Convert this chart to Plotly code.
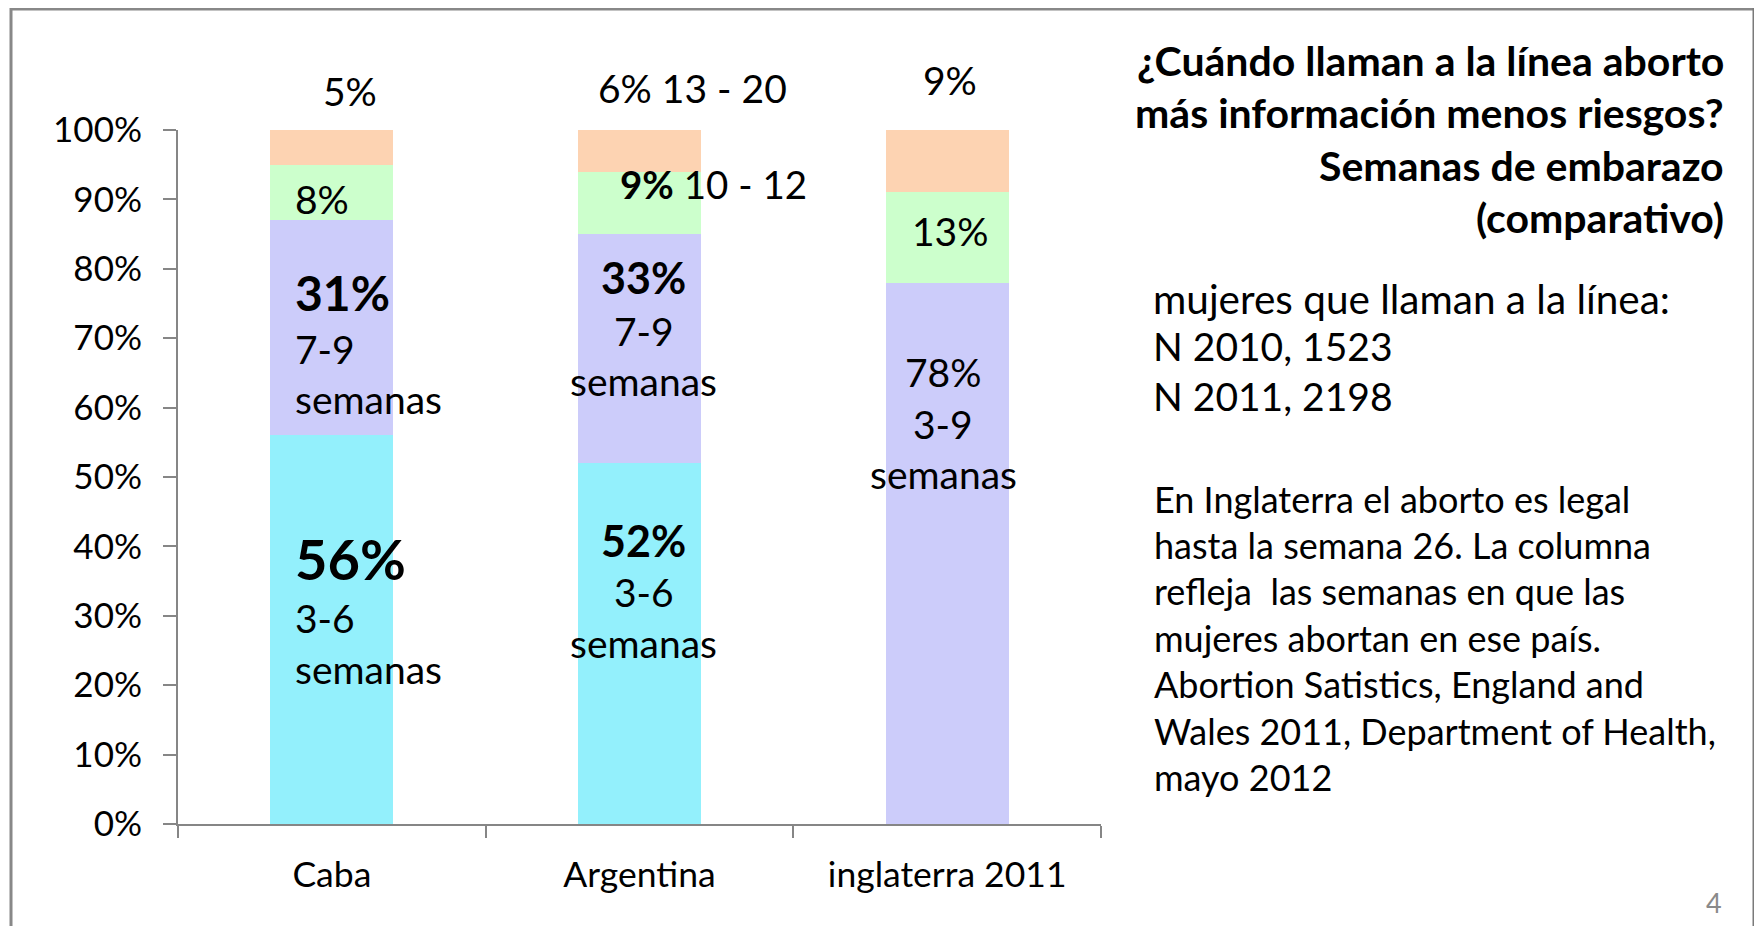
import plotly.graph_objects as go

categories = ["Caba", "Argentina", "inglaterra 2011"]
seg_names = ["3-6 semanas", "7-9 semanas", "10-12 semanas", "13-20 semanas"]
v_3_6 = [56, 52, 0]
v_7_9 = [31, 33, 78]
v_10_12 = [8, 9, 13]
v_13_20 = [5, 6, 9]
series = [v_3_6, v_7_9, v_10_12, v_13_20]
colors = ["#93F0FC", "#CCCCFA", "#CCFFCC", "#FDD3B2"]
y_ticks = [0, 10, 20, 30, 40, 50, 60, 70, 80, 90, 100]
y_ticktext = [f"{v}%" for v in y_ticks]

FONT = "Lato"
OFF = 8  # page body margin
W, H = 1762 - OFF, 926 - OFF
PL, PR, PT, PB = 178, 1101, 130, 824  # plot area in page pixels
L, T = PL - OFF, PT - OFF
R, B = W - (PR - OFF), H - (PB - OFF)

fig = go.Figure()
for name, vals, col in zip(seg_names, series, colors):
    fig.add_trace(go.Bar(x=categories, y=vals, name=name, marker_color=col,
                         marker_line_width=0, hoverinfo="x+y+name"))

# cumulative segment midpoints from data
mids = []
for ci in range(len(categories)):
    base = 0
    row = []
    for s in series:
        row.append(base + s[ci] / 2)
        base += s[ci]
    mids.append(row)

def px(v):
    return PB - (PB - PT) / 100 * v

def ys(ci, si, target):
    return px(mids[ci][si]) - target

def lab(ci, si, text, xanchor, xshift, target, size=39, bold=False):
    t = f"<b>{text}</b>" if bold else text
    fig.add_annotation(x=categories[ci], y=mids[ci][si], xref="x", yref="y", text=t,
                       showarrow=False, xanchor=xanchor, yanchor="middle",
                       xshift=xshift, yshift=ys(ci, si, target),
                       font=dict(family=FONT, size=size, color="#000000"))

# Caba (left aligned)
lab(0, 0, f"{v_3_6[0]}%", "left", -39, 558, 56, True)
lab(0, 0, "3-6", "left", -39, 618)
lab(0, 0, "semanas", "left", -39, 669)
lab(0, 1, f"{v_7_9[0]}%", "left", -39, 292, 48, True)
lab(0, 1, "7-9", "left", -39, 349)
lab(0, 1, "semanas", "left", -39, 399)
lab(0, 2, f"{v_10_12[0]}%", "left", -39, 199)
lab(0, 3, f"{v_13_20[0]}%", "center", 18, 91)
# Argentina (centered)
lab(1, 0, f"{v_3_6[1]}%", "center", 4, 540, 43, True)
lab(1, 0, "3-6", "center", 4, 592)
lab(1, 0, "semanas", "center", 4, 643)
lab(1, 1, f"{v_7_9[1]}%", "center", 4, 277, 43, True)
lab(1, 1, "7-9", "center", 4, 331)
lab(1, 1, "semanas", "center", 4, 381)
fig.add_annotation(x=categories[1], y=mids[1][2], xref="x", yref="y",
                   text=f"<b>{v_10_12[1]}%</b> 10 - 12", showarrow=False,
                   xanchor="left", yanchor="middle", xshift=-22, yshift=ys(1, 2, 184),
                   font=dict(family=FONT, size=38.5, color="#000000"))
lab(1, 3, f"{v_13_20[1]}% 13 - 20", "center", 53, 88)
# Inglaterra
lab(2, 1, f"{v_7_9[2]}%", "center", -4, 372)
lab(2, 1, "3-9", "center", -4, 424)
lab(2, 1, "semanas", "center", -4, 474)
lab(2, 2, f"{v_10_12[2]}%", "center", 3, 231)
lab(2, 3, f"{v_13_20[2]}%", "center", 3, 80)

# right-hand text (paper coords from page pixels)
def xp(p):
    return (p - PL) / (PR - PL)

def yp(p):
    return (PB - p) / (PB - PT)

title_lines = ["¿Cuándo llaman a la línea aborto", "más información menos riesgos?",
               "Semanas de embarazo", "(comparativo)"]
title_y = [61, 113, 165, 217]
for t, y in zip(title_lines, title_y):
    fig.add_annotation(x=xp(1726), y=yp(y), xref="paper", yref="paper", text=f"<b>{t}</b>",
                       showarrow=False, xanchor="right", yanchor="middle",
                       font=dict(family=FONT, size=41, color="#000000"))

n_lines = ["mujeres que llaman a la línea:", "N 2010, 1523", "N 2011, 2198"]
n_y = [298, 346, 396]
n_size = [40.5, 39, 39]
for t, y, s in zip(n_lines, n_y, n_size):
    fig.add_annotation(x=xp(1151), y=yp(y), xref="paper", yref="paper", text=t,
                       showarrow=False, xanchor="left", yanchor="middle",
                       font=dict(family=FONT, size=s, color="#000000"))

p_lines = ["En Inglaterra el aborto es legal", "hasta la semana 26. La columna",
           "refleja  las semanas en que las", "mujeres abortan en ese país.",
           "Abortion Satistics, England and", "Wales 2011, Department of Health,",
           "mayo 2012"]
p_y = [499, 545, 591, 638, 684, 731, 777]
for t, y in zip(p_lines, p_y):
    fig.add_annotation(x=xp(1152), y=yp(y), xref="paper", yref="paper", text=t,
                       showarrow=False, xanchor="left", yanchor="middle",
                       font=dict(family=FONT, size=36, color="#000000"))

fig.add_annotation(x=xp(1724), y=yp(903), xref="paper", yref="paper", text="4",
                   showarrow=False, xanchor="right", yanchor="middle",
                   font=dict(family=FONT, size=27, color="#8a8a8a"))

# slide frame
fig.add_shape(type="line", xref="paper", yref="paper", x0=xp(11), x1=xp(11), y0=yp(8), y1=yp(940),
              line=dict(color="#888888", width=3))
fig.add_shape(type="line", xref="paper", yref="paper", x0=xp(10), x1=xp(1755), y0=yp(9), y1=yp(9),
              line=dict(color="#888888", width=3))
fig.add_shape(type="line", xref="paper", yref="paper", x0=xp(1755), x1=xp(1755), y0=yp(8), y1=yp(940),
              line=dict(color="#7a7a7a", width=5))

fig.update_layout(
    width=W, height=H, barmode="stack", bargap=0.6, showlegend=False,
    paper_bgcolor="white", plot_bgcolor="white",
    margin=dict(l=L, r=R, t=T, b=B, pad=0, autoexpand=False),
    font=dict(family=FONT, size=34, color="#000000"),
)
fig.update_yaxes(range=[0, 100], tickvals=y_ticks, ticktext=y_ticktext, showgrid=False,
                 showline=True, linecolor="#868686", linewidth=2, ticks="outside",
                 ticklen=13, tickcolor="#868686", tickwidth=2, zeroline=False,
                 ticklabelstandoff=14, automargin=False,
                 tickfont=dict(family=FONT, size=35, color="#000000"))
fig.update_xaxes(showline=True, linecolor="#868686", linewidth=2, ticks="outside",
                 tickson="boundaries", ticklen=12, tickcolor="#868686", tickwidth=2,
                 ticklabelstandoff=18, automargin=False,
                 showgrid=False, tickfont=dict(family=FONT, size=35.5, color="#000000"))

fig.write_html("out.html")
